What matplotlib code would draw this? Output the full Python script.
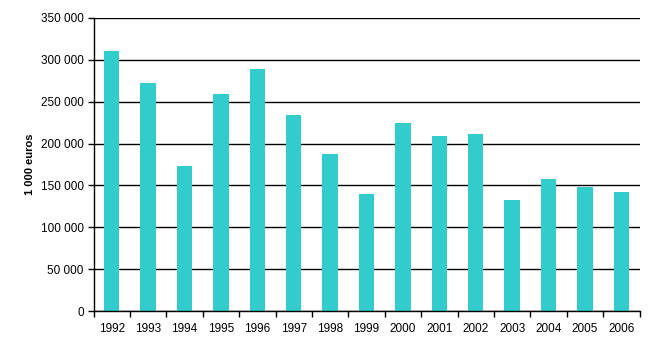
import matplotlib
matplotlib.use("Agg")
import matplotlib.pyplot as plt
from matplotlib.ticker import FuncFormatter

years = ["1992", "1993", "1994", "1995", "1996", "1997", "1998", "1999",
         "2000", "2001", "2002", "2003", "2004", "2005", "2006"]
values = [310000, 272000, 173000, 259000, 289000, 234000, 188000, 140000,
          225000, 209000, 211000, 133000, 158000, 148000, 142000]
yticks = [0, 50000, 100000, 150000, 200000, 250000, 300000, 350000]

plt.rcParams['font.family'] = ['Liberation Sans', 'DejaVu Sans']

fig = plt.figure(figsize=(6.58, 3.64), dpi=100)
ax = fig.add_axes([93.5 / 658, 1 - 311 / 364, 546 / 658, 293 / 364])

x = list(range(len(years)))
ax.bar(x, values, width=0.42, color="#33CCCC", zorder=3)

ax.set_xlim(-0.5, len(years) - 0.5)
ax.set_ylim(0, 350000)
ax.set_yticks(yticks)
ax.yaxis.set_major_formatter(FuncFormatter(lambda v, p: f"{int(v):,}".replace(",", " ")))
ax.yaxis.grid(True, color="black", linewidth=1, zorder=1)

# year labels in the middle, tick marks on the category boundaries
ax.set_xticks(x)
ax.set_xticklabels(years)
ax.tick_params(axis="x", which="major", length=0, pad=9, labelsize=8.5)
ax.set_xticks([i - 0.5 for i in range(len(years) + 1)], minor=True)
ax.tick_params(axis="x", which="minor", length=4, width=1, direction="out")
ax.tick_params(axis="y", length=4, width=1, labelsize=8.5, pad=3)

for s in ["top", "right"]:
    ax.spines[s].set_visible(False)
ax.spines["left"].set_linewidth(1)
ax.spines["bottom"].set_linewidth(1)
ax.spines["bottom"].set_zorder(4)

fig.text(30 / 658, 1 - 164.5 / 364, "1 000 euros", rotation=90, fontsize=8,
         fontweight="bold", ha="center", va="center")

fig.savefig("out.png", dpi=100)
